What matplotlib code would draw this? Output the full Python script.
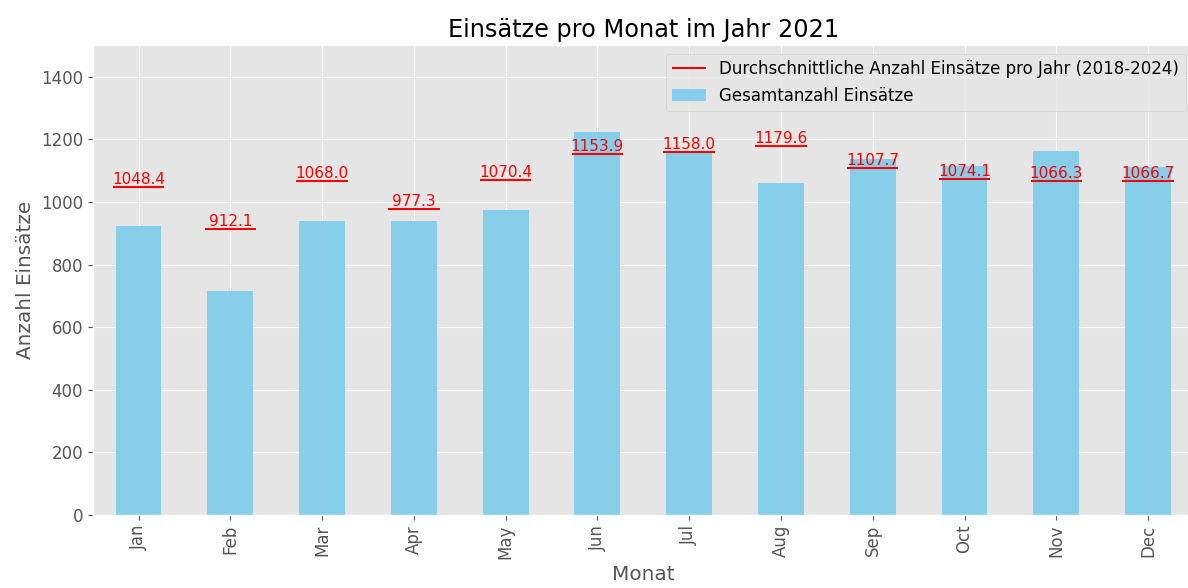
import numpy as np
import matplotlib
matplotlib.use("Agg")
import matplotlib.pyplot as plt

plt.style.use("ggplot")
plt.rcParams["font.size"] = 12

# Monatsdaten 2021
months = ["Jan", "Feb", "Mar", "Apr", "May", "Jun", "Jul", "Aug", "Sep", "Oct", "Nov", "Dec"]
totals_2021 = [924, 716, 940, 939, 975, 1224, 1160, 1060, 1138, 1113, 1163, 1112]
avg_2018_2024 = [1048.4, 912.1, 1068.0, 977.3, 1070.4, 1153.9, 1158.0, 1179.6, 1107.7, 1074.1, 1066.3, 1066.7]

fig, ax = plt.subplots(figsize=(11.88, 5.88), dpi=100)

x = np.arange(len(months))
bars = ax.bar(x, totals_2021, width=0.5, color="skyblue", label="Gesamtanzahl Einsätze")

# Durchschnitt als kurze rote Linie pro Monat
for i, avg in enumerate(avg_2018_2024):
    line, = ax.plot([i - 0.28, i + 0.28], [avg, avg], color="red", linewidth=1.5,
                    solid_capstyle="butt",
                    label="Durchschnittliche Anzahl Einsätze pro Jahr (2018-2024)" if i == 0 else None)
    ax.text(i, avg, f"{avg:.1f}", ha="center", va="bottom", color="red", fontsize=11)
    if i == 0:
        avg_line = line

ax.set_xticks(x)
ax.set_xticklabels(months, rotation=90)
ax.set_xlim(-0.5, len(months) - 0.5)
ax.set_ylim(0, 1500)
ax.set_title("Einsätze pro Monat im Jahr 2021")
ax.set_xlabel("Monat")
ax.set_ylabel("Anzahl Einsätze")
ax.legend(handles=[avg_line, bars], loc="upper right", facecolor="#e5e5e5", framealpha=0.8)

fig.subplots_adjust(left=0.078, right=1.005, top=0.923, bottom=0.124)
plt.savefig("out.png")
